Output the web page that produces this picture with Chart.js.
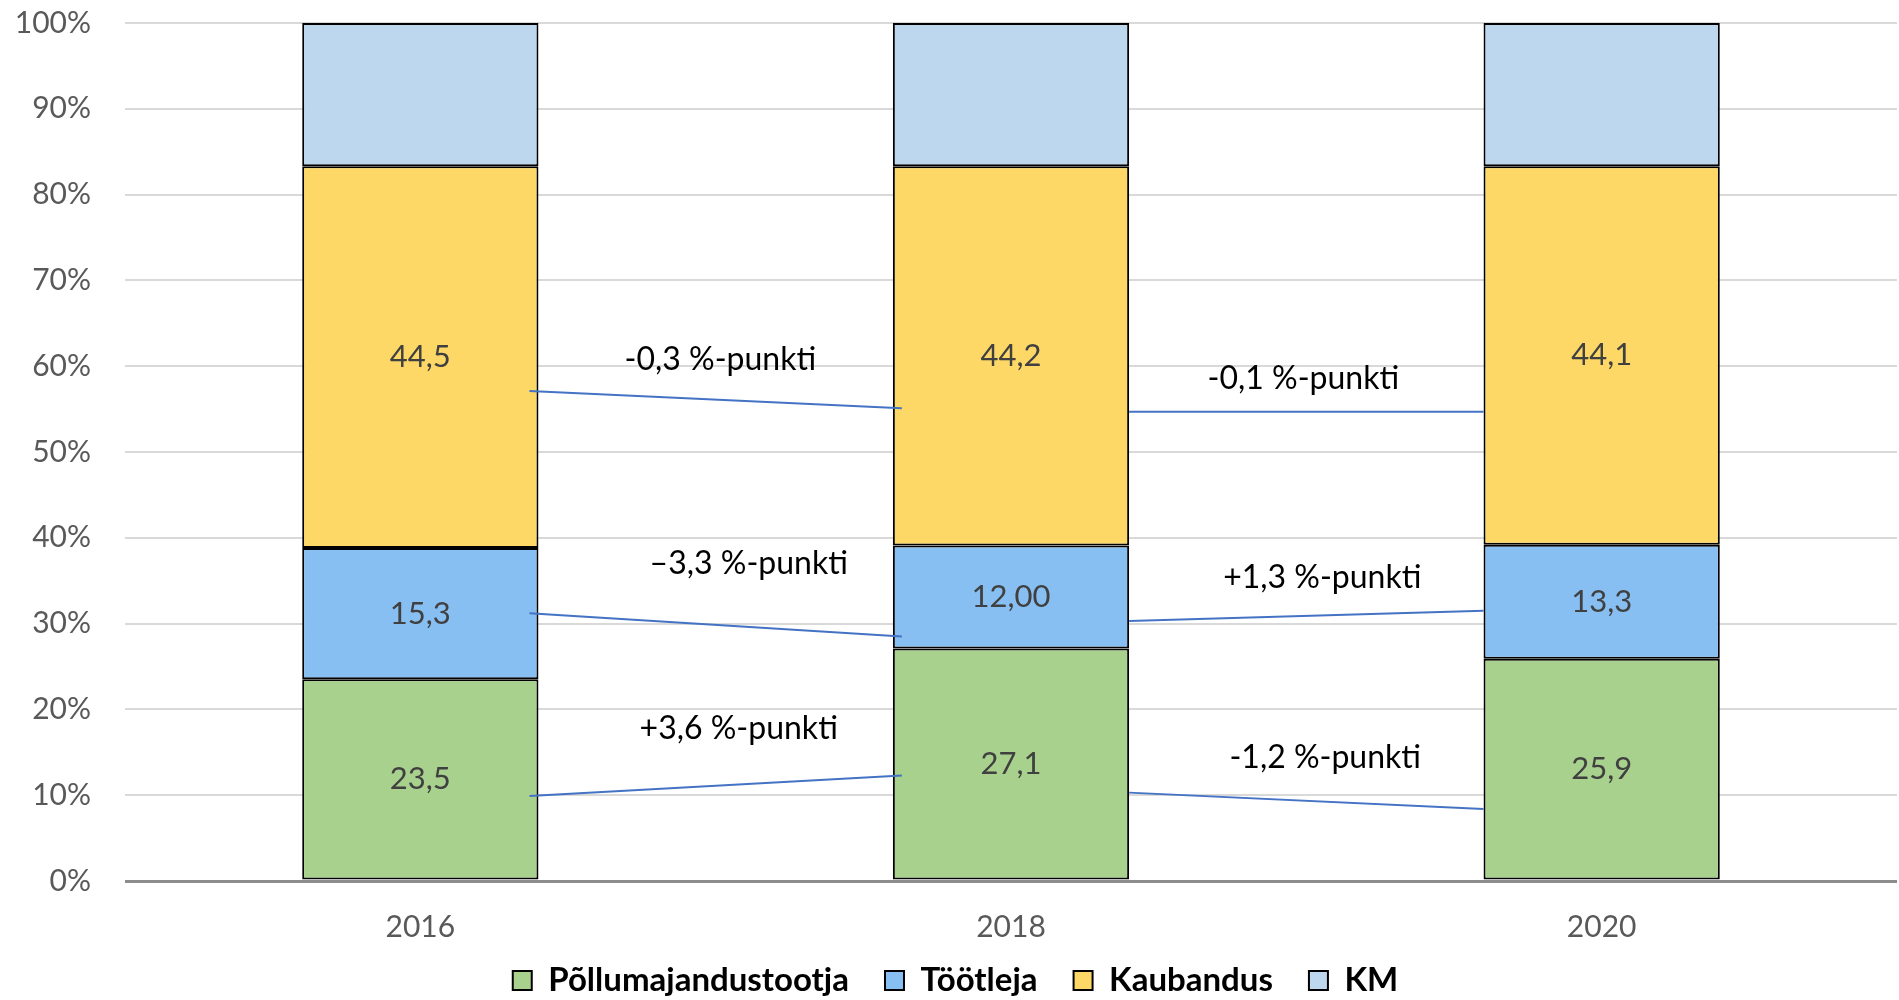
<!DOCTYPE html>
<html>
<head>
<meta charset="utf-8">
<script src="https://cdn.jsdelivr.net/npm/chart.js@4.4.1/dist/chart.umd.min.js"></script>
<style>
  html, body { margin: 0; padding: 0; background: #fff; }
  #wrap { width: 1899px; height: 1000px; }
</style>
</head>
<body>
<div id="wrap"><canvas id="chart"></canvas></div>
<script>
const years = ['2016', '2018', '2020'];
const pollumajandus = [23.5, 27.1, 25.9];
const tootleja = [15.3, 12.0, 13.3];
const kaubandus = [44.5, 44.2, 44.1];
const km = [16.7, 16.7, 16.7];

const pollumajandusText = ['23,5', '27,1', '25,9'];
const tootlejaText = ['15,3', '12,00', '13,3'];
const kaubandusText = ['44,5', '44,2', '44,1'];

// connector ends (% of the bar height) between neighbouring years
const kaubandusLinks = [[57.1, 55.1], [54.7, 54.7]];
const tootlejaLinks = [[31.2, 28.5], [30.3, 31.5]];
const pollumajandusLinks = [[9.9, 12.3], [10.3, 8.4]];
const kaubandusChange = ['-0,3 %-punkti', '-0,1 %-punkti'];
const tootlejaChange = ['\u20133,3 %-punkti', '+1,3 %-punkti'];
const pollumajandusChange = ['+3,6 %-punkti', '-1,2 %-punkti'];

// where the change texts sit: [category position, percent]
const kaubandusChangeAt = [[0.508, 60.8], [1.495, 58.5]];
const tootlejaChangeAt = [[0.556, 37.0], [1.527, 35.4]];
const pollumajandusChangeAt = [[0.539, 17.7], [1.532, 14.4]];
const linkInset = [9, 0];

const FONT = 'Lato, "Open Sans", sans-serif';

const barLabels = {
  id: 'barLabels',
  afterDatasetsDraw(chart) {
    const ctx = chart.ctx;
    const texts = [pollumajandusText, tootlejaText, kaubandusText];
    ctx.save();
    ctx.font = '31px ' + FONT;
    ctx.fillStyle = '#404040';
    ctx.textAlign = 'center';
    ctx.textBaseline = 'middle';
    texts.forEach((arr, d) => {
      chart.getDatasetMeta(d).data.forEach((bar, i) => {
        ctx.fillText(arr[i], bar.x, (bar.y + bar.base) / 2);
      });
    });
    ctx.restore();
  }
};

const changeLinks = {
  id: 'changeLinks',
  afterDatasetsDraw(chart) {
    const ctx = chart.ctx;
    const xs = chart.scales.x, ys = chart.scales.y;
    const bars = chart.getDatasetMeta(0).data;
    const groups = [
      [kaubandusLinks, kaubandusChange, kaubandusChangeAt],
      [tootlejaLinks, tootlejaChange, tootlejaChangeAt],
      [pollumajandusLinks, pollumajandusChange, pollumajandusChangeAt]
    ];
    ctx.save();
    groups.forEach(([links, texts, at]) => {
      links.forEach((pair, i) => {
        const a = bars[i], b = bars[i + 1];
        const x1 = a.x + a.width / 2 - linkInset[i];
        const x2 = b.x - b.width / 2 + linkInset[i];
        ctx.beginPath();
        ctx.strokeStyle = '#4472C4';
        ctx.lineWidth = 2;
        ctx.moveTo(x1, ys.getPixelForValue(pair[0]));
        ctx.lineTo(x2, ys.getPixelForValue(pair[1]));
        ctx.stroke();

        const p0 = xs.getPixelForValue(0), p1 = xs.getPixelForValue(1);
        const tx = p0 + (p1 - p0) * at[i][0];
        ctx.font = '32px ' + FONT;
        ctx.fillStyle = '#000';
        ctx.textAlign = 'center';
        ctx.textBaseline = 'middle';
        ctx.fillText(texts[i], tx, ys.getPixelForValue(at[i][1]));
      });
    });
    ctx.restore();
  }
};

// pull the legend up a little, closer to the year labels
const legendShift = {
  id: 'legendShift',
  afterLayout(chart) {
    chart.legend.top -= 23;
    chart.legend.bottom -= 23;
  }
};

const base = { borderColor: '#000', borderWidth: 2, borderSkipped: false, barPercentage: 0.4, categoryPercentage: 1.0 };

new Chart(document.getElementById('chart'), {
  type: 'bar',
  data: {
    labels: years,
    datasets: [
      { ...base, label: 'Põllumajandustootja', data: pollumajandus, backgroundColor: '#A9D18E' },
      { ...base, label: 'Töötleja', data: tootleja, backgroundColor: '#88BFF2' },
      { ...base, label: 'Kaubandus', data: kaubandus, backgroundColor: '#FDD866' },
      { ...base, label: 'KM', data: km, backgroundColor: '#BDD7EE' }
    ]
  },
  options: {
    responsive: true,
    maintainAspectRatio: false,
    animation: false,
    layout: { padding: { top: 23, left: 14, right: 2, bottom: -30 } },
    plugins: {
      legend: {
        position: 'bottom',
        labels: {
          font: { family: FONT, size: 33, weight: 'bold' },
          color: '#000',
          boxWidth: 19,
          boxHeight: 19,
          padding: 36
        }
      },
      tooltip: { enabled: false }
    },
    scales: {
      x: {
        stacked: true,
        grid: { display: false },
        border: { display: false },
        ticks: { font: { family: FONT, size: 30 }, color: '#595959', padding: 20 },
        afterFit(scale) { scale.height = 70; }
      },
      y: {
        stacked: true,
        min: 0,
        max: 100,
        border: { display: false },
        grid: {
          drawTicks: false,
          color: ctx => ctx.tick.value === 0 ? '#8C8C8C' : '#D9D9D9',
          lineWidth: ctx => ctx.tick.value === 0 ? 3 : 2
        },
        ticks: {
          stepSize: 10,
          padding: 34,
          font: { family: FONT, size: 30 },
          color: '#595959',
          callback: v => v + '%'
        },
        afterFit(scale) {
          scale.width = 111;
          scale.paddingTop = 0;
          scale.paddingBottom = 0;
        }
      }
    }
  },
  plugins: [legendShift, barLabels, changeLinks]
});
</script>
</body>
</html>
